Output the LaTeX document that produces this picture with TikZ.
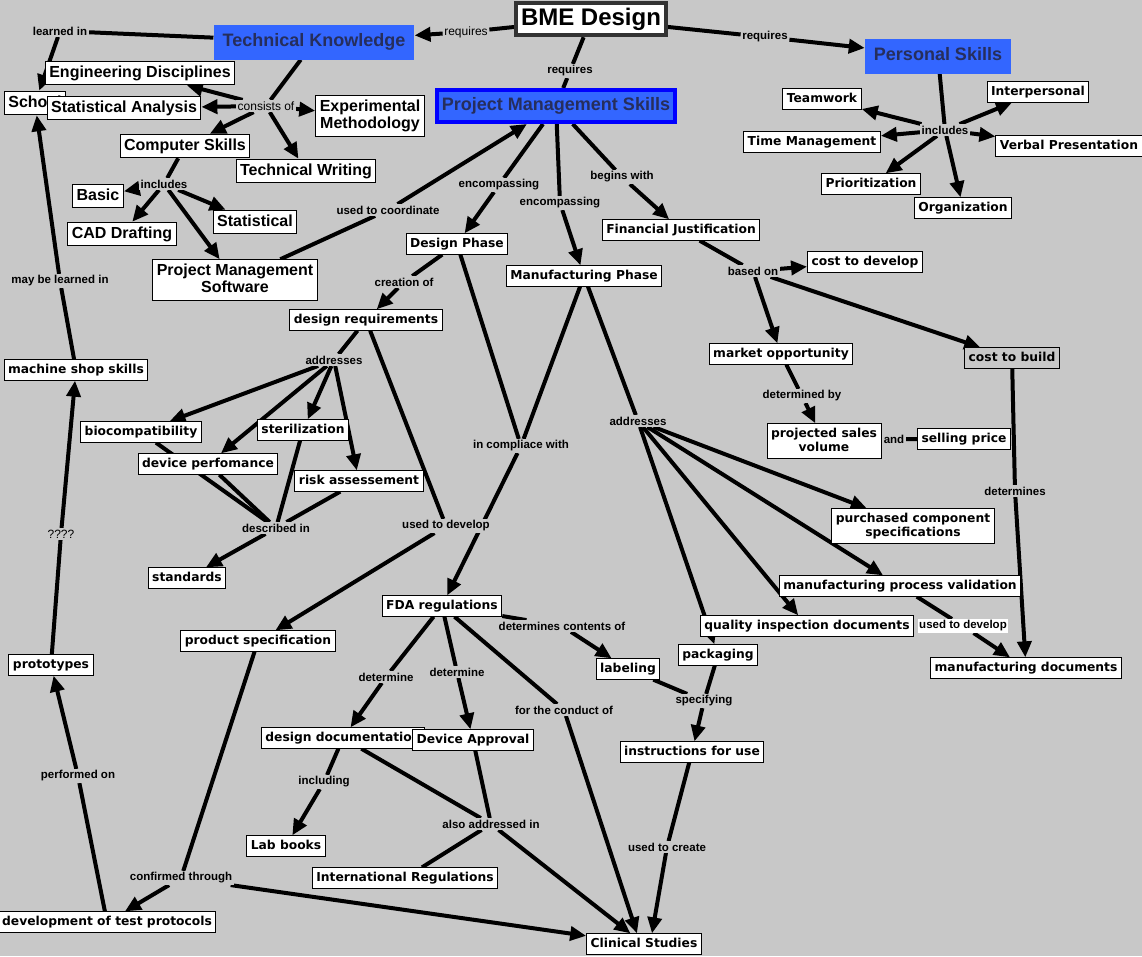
\documentclass[tikz,border=0pt]{standalone}
\usepackage{fontspec}
\setmainfont{Liberation Sans}
\newfontfamily\conceptfont{DejaVu Sans}
\usetikzlibrary{arrows.meta}
\definecolor{bgc}{RGB}{200,200,200}
\definecolor{skblue}{RGB}{51,102,255}
\definecolor{sknavy}{RGB}{38,46,92}
\definecolor{rootgray}{RGB}{51,51,51}
\pgfdeclarelayer{back}
\pgfdeclarelayer{links}
\pgfsetlayers{back,links,main}
\tikzset{
  concept/.style={draw=black, fill=white, line width=1pt, inner xsep=4pt, inner ysep=4pt, align=center,
    text height=9.5pt, text depth=2.8pt, font=\conceptfont\bfseries\fontsize{12.3}{14}\selectfont},
  twoline/.style={text height=23.5pt},
  bigconcept/.style={concept, text height=12pt, text depth=3.5pt, font=\bfseries\fontsize{16}{17}\selectfont},
  bigtwoline/.style={text height=29pt},
  topic/.style={fill=skblue, text=sknavy, inner xsep=9pt, inner ysep=9pt, text height=13pt, text depth=4pt,
    font=\bfseries\fontsize{18}{20}\selectfont},
  rootconcept/.style={draw=rootgray, fill=white, line width=4pt, inner xsep=5pt, inner ysep=5pt,
    text height=17.5pt, text depth=5pt, font=\bfseries\fontsize{24}{26}\selectfont},
  linklabel/.style={fill=bgc, inner sep=1.5pt, font=\bfseries\fontsize{11.5}{13}\selectfont},
  thinlabel/.style={linklabel, font=\fontsize{12}{13}\selectfont},
  link/.style={line width=4pt},
  arrowlink/.style={link, -{Triangle[length=16pt,width=14pt]}},
}
\begin{document}
\begin{tikzpicture}[x=1pt,y=-1pt]
\begin{pgfonlayer}{back}
  \fill[bgc] (0,0) rectangle (1142,956);
\end{pgfonlayer}
\useasboundingbox (0,0) rectangle (1142,956);

% top level
\node[rootconcept] (bme) at (591,19) {BME Design};
\node[topic] (tk) at (314,42) {Technical Knowledge};
\node[topic] (ps) at (938,56) {Personal Skills};
\node[topic, draw=blue, line width=4pt, inner xsep=5pt, inner ysep=7.5pt] (pms) at (556,106) {Project Management Skills};

% technical knowledge
\node[bigconcept] (school) at (35,103) {School};
\node[bigconcept] (engd) at (140,73) {Engineering Disciplines};
\node[bigconcept] (stata) at (124,108) {Statistical Analysis};
\node[bigconcept, bigtwoline] (expm) at (370,116) {Experimental\\Methodology};
\node[bigconcept] (comps) at (185,146) {Computer Skills};
\node[bigconcept] (techw) at (306,171) {Technical Writing};
\node[bigconcept] (basic) at (98,196) {Basic};
\node[bigconcept] (cad) at (122,234) {CAD Drafting};
\node[bigconcept] (stat) at (255,222) {Statistical};
\node[bigconcept, bigtwoline] (pmsw) at (235,280) {Project Management\\Software};

% personal skills
\node[concept] (team) at (822,99) {Teamwork};
\node[concept] (inter) at (1038,92) {Interpersonal};
\node[concept] (timem) at (812,142) {Time Management};
\node[concept] (verbal) at (1069,146) {Verbal Presentation};
\node[concept] (prio) at (871,184) {Prioritization};
\node[concept] (org) at (963,208) {Organization};

% project management
\node[concept] (dphase) at (457,244) {Design Phase};
\node[concept] (mphase) at (584,276) {Manufacturing Phase};
\node[concept] (finj) at (681,230) {Financial Justification};
\node[concept] (cdev) at (865,262) {cost to develop};
\node[concept] (dreq) at (366,320) {design requirements};
\node[concept] (mopp) at (781,354) {market opportunity};
\node[concept, fill=bgc] (cbuild) at (1012,358) {cost to build};
\node[concept] (mshop) at (76,370) {machine shop skills};
\node[concept] (biocomp) at (141,432) {biocompatibility};
\node[concept] (steril) at (303,430) {sterilization};
\node[concept] (devperf) at (208,464) {device perfomance};
\node[concept] (risk) at (359,481) {risk assessement};
\node[concept, twoline] (psales) at (824,441) {projected sales\\volume};
\node[concept] (sprice) at (964,439) {selling price};
\node[concept] (stds) at (187,578) {standards};
\node[concept, twoline] (pcomp) at (913,526) {purchased component\\specifications};
\node[concept] (mpval) at (900,586) {manufacturing process validation};
\node[concept] (fda) at (442,606) {FDA regulations};
\node[concept] (pspec) at (258,641) {product specification};
\node[concept] (qid) at (807,626) {quality inspection documents};
\node[concept] (proto) at (51,665) {prototypes};
\node[concept] (pack) at (718,655) {packaging};
\node[concept] (label) at (628,669) {labeling};
\node[concept] (mdocs) at (1026,668) {manufacturing documents};
\node[concept] (ddoc) at (343,738) {design documentation};
\node[concept] (devapp) at (473,740) {Device Approval};
\node[concept] (ifu) at (692,752) {instructions for use};
\node[concept] (labb) at (286,846) {Lab books};
\node[concept] (intreg) at (405,878) {International Regulations};
\node[concept] (dtp) at (107,922) {development of test protocols};
\node[concept] (clin) at (644,944) {Clinical Studies};

% linking phrases
\node[linklabel] (learned) at (60,31) {learned in};
\node[thinlabel] (rq1) at (466,32) {requires};
\node[linklabel] (rq2) at (765,37) {requires};
\node[linklabel] (rq3) at (570,71) {requires};
\node[thinlabel] (consist) at (266,106) {consists of};
\node[linklabel] (inc1) at (164,184) {includes};
\node[linklabel] (ucoord) at (388,210) {used to coordinate};
\node[linklabel] (enc1) at (499,185) {encompassing};
\node[linklabel] (enc2) at (560,203) {encompassing};
\node[linklabel] (begw) at (622,177) {begins with};
\node[linklabel] (inc2) at (945,130) {includes};
\node[linklabel] (creat) at (404,282) {creation of};
\node[linklabel] (based) at (753,271) {based on};
\node[linklabel] (mayl) at (60,281) {may be learned in};
\node[linklabel] (addr1) at (334,360) {addresses};
\node[linklabel] (detby) at (802,396) {determined by};
\node[linklabel] (andl) at (894,439) {and};
\node[linklabel] (addr2) at (638,421) {addresses};
\node[linklabel] (compl) at (521,446) {in compliace with};
\node[linklabel] (descr) at (276,528) {described in};
\node[linklabel] (udev1) at (446,526) {used to develop};
\node[linklabel] (dets) at (1015,491) {determines};
\node[thinlabel] (qq) at (61,534) {????};
\node[linklabel, fill=white] (udev2) at (963,626) {used to develop};
\node[linklabel] (detc) at (562,626) {determines contents of};
\node[linklabel] (det1) at (386,677) {determine};
\node[linklabel] (det2) at (457,672) {determine};
\node[linklabel] (cond) at (564,710) {for the conduct of};
\node[linklabel] (spec) at (704,701) {specifying};
\node[linklabel] (perf) at (78,776) {performed on};
\node[linklabel] (incl) at (324,782) {including};
\node[linklabel] (also) at (491,824) {also addressed in};
\node[linklabel] (ucreate) at (667,847) {used to create};
\node[linklabel] (confirm) at (181,878) {confirmed through};

\begin{pgfonlayer}{links}
% BME Design
\draw[link] (bme) -- (rq1);
\draw[arrowlink] (rq1) -- (tk);
\draw[link] (bme) -- (rq2);
\draw[arrowlink] (rq2) -- (ps);
\draw[link] (bme) -- (rq3);
\draw[link] (rq3) -- (pms);
% technical knowledge
\draw[link] (tk) -- (learned);
\draw[arrowlink] (learned) -- (school);
\draw[link] (tk) -- (consist);
\draw[arrowlink] (consist) -- (engd);
\draw[arrowlink] (consist) -- (stata);
\draw[arrowlink] (consist) -- (expm);
\draw[arrowlink] (consist) -- (comps);
\draw[arrowlink] (consist) -- (techw);
\draw[link] (comps) -- (inc1);
\draw[arrowlink] (inc1) -- (basic);
\draw[arrowlink] (inc1) -- (cad);
\draw[arrowlink] (inc1) -- (stat);
\draw[arrowlink] (inc1) -- (pmsw);
\draw[link] (pmsw) -- (ucoord);
\draw[arrowlink] (ucoord) -- (pms);
% personal skills
\draw[link] (ps) -- (inc2);
\draw[arrowlink] (inc2) -- (team);
\draw[arrowlink] (inc2) -- (inter);
\draw[arrowlink] (inc2) -- (timem);
\draw[arrowlink] (inc2) -- (verbal);
\draw[arrowlink] (inc2) -- (prio);
\draw[arrowlink] (inc2) -- (org);
% project management skills
\draw[link] (pms) -- (enc1);
\draw[arrowlink] (enc1) -- (dphase);
\draw[link] (pms) -- (enc2);
\draw[arrowlink] (enc2) -- (mphase);
\draw[link] (pms) -- (begw);
\draw[arrowlink] (begw) -- (finj);
% phases
\draw[link] (dphase) -- (creat);
\draw[arrowlink] (creat) -- (dreq);
\draw[link] (dphase) -- (compl);
\draw[link] (mphase) -- (compl);
\draw[arrowlink] (compl) -- (fda);
\draw[link] (mphase) -- (addr2);
\draw[arrowlink] (addr2) -- (pcomp);
\draw[arrowlink] (addr2) -- (mpval);
\draw[arrowlink] (addr2) -- (qid);
\draw[arrowlink] (addr2) -- (pack);
% financial justification
\draw[link] (finj) -- (based);
\draw[arrowlink] (based) -- (cdev);
\draw[arrowlink] (based) -- (mopp);
\draw[arrowlink] (based) -- (cbuild);
\draw[link] (mopp) -- (detby);
\draw[arrowlink] (detby) -- (psales);
\draw[link] (psales) -- (andl) -- (sprice);
\draw[link] (cbuild) -- (dets);
\draw[arrowlink] (dets) -- (mdocs);
\draw[link] (mpval) -- (udev2);
\draw[arrowlink] (udev2) -- (mdocs);
% design requirements
\draw[link] (dreq) -- (addr1);
\draw[arrowlink] (addr1) -- (biocomp);
\draw[arrowlink] (addr1) -- (devperf);
\draw[arrowlink] (addr1) -- (steril);
\draw[arrowlink] (addr1) -- (risk);
\draw[link] (biocomp) -- (descr);
\draw[link] (devperf) -- (descr);
\draw[link] (steril) -- (descr);
\draw[link] (risk) -- (descr);
\draw[arrowlink] (descr) -- (stds);
\draw[link] (dreq) -- (udev1);
\draw[arrowlink] (udev1) -- (pspec);
% FDA regulations
\draw[link] (fda) -- (detc);
\draw[arrowlink] (detc) -- (label);
\draw[link] (fda) -- (det1);
\draw[arrowlink] (det1) -- (ddoc);
\draw[link] (fda) -- (det2);
\draw[arrowlink] (det2) -- (devapp);
\draw[link] (fda) -- (cond);
\draw[arrowlink] (cond) -- ([xshift=-7pt]clin.north);
\draw[link] (label) -- (spec);
\draw[link] (pack) -- (spec);
\draw[arrowlink] (spec) -- (ifu);
\draw[link] (ifu) -- (ucreate);
\draw[arrowlink] (ucreate) -- ([xshift=8pt]clin.north);
\draw[link] (ddoc) -- (also);
\draw[link] (devapp) -- (also);
\draw[link] (also) -- (intreg);
\draw[arrowlink] (also) -- (clin);
\draw[link] (ddoc) -- (incl);
\draw[arrowlink] (incl) -- (labb);
% testing and prototypes
\draw[link] (pspec) -- (confirm);
\draw[arrowlink] (confirm) -- (dtp);
\draw[arrowlink] (confirm) -- (clin);
\draw[link] (dtp) -- (perf);
\draw[arrowlink] (perf) -- (proto);
\draw[link] (proto) -- (qq);
\draw[arrowlink] (qq) -- (mshop);
\draw[link] (mshop) -- (mayl);
\draw[arrowlink] (mayl) -- (school);
\end{pgfonlayer}
\end{tikzpicture}
\end{document}
